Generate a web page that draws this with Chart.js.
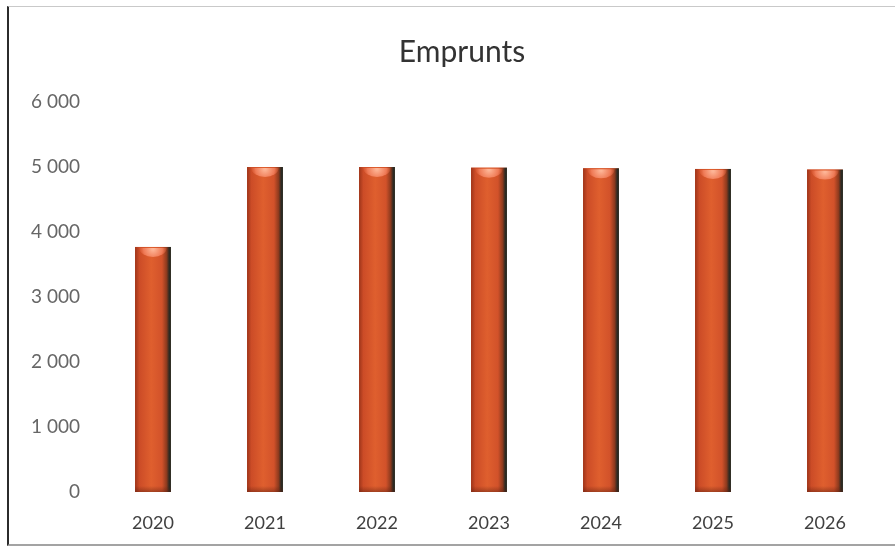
<!DOCTYPE html>
<html>
<head>
<meta charset="utf-8">
<title>Emprunts</title>
<script src="https://cdn.jsdelivr.net/npm/chart.js@4/dist/chart.umd.min.js"></script>
<style>
  html, body { margin: 0; padding: 0; background: #fff; }
  #wrap { position: relative; width: 895px; height: 548px; overflow: hidden; }
  #frame {
    position: absolute; left: 7px; top: 6px; width: 900px; height: 537px;
    border-left: 2px solid #2b2b2b; border-top: 1px solid #c9c9c9; border-bottom: 2px solid #a3a3a3;
  }
  canvas { position: absolute; left: 0; top: 0; }
</style>
</head>
<body>
<div id="wrap">
  <div id="frame"></div>
  <canvas id="emprunts" width="895" height="548"></canvas>
</div>
<script>
'use strict';

// annual borrowings
var years = ['2020', '2021', '2022', '2023', '2024', '2025', '2026'];
var amounts = [3770, 5000, 5000, 4990, 4980, 4970, 4960];
var yTicks = [0, 1000, 2000, 3000, 4000, 5000, 6000];
var chartTitle = 'Emprunts';

function spaced(v) {
  return String(v).replace(/\B(?=(\d{3})+(?!\d))/g, ' ');
}

// the frame runs past the right edge, so the heading sits centred on the frame
var frameTitle = {
  id: 'frameTitle',
  afterDraw: function (chart, args, opts) {
    var ctx = chart.ctx;
    ctx.save();
    ctx.font = '30px Lato';
    ctx.fillStyle = '#333';
    ctx.textAlign = 'center';
    ctx.textBaseline = 'middle';
    ctx.fillText(opts.text, opts.x, opts.y);
    ctx.restore();
  }
};

// paint each bar like a little cylinder: darker edges, light top cap
var cylinder = {
  id: 'cylinder',
  afterDatasetsDraw: function (chart) {
    var ctx = chart.ctx;
    chart.getDatasetMeta(0).data.forEach(function (bar) {
      var p = bar.getProps(['x', 'y', 'width', 'base'], true);
      var l = p.x - p.width / 2, w = p.width, h = p.base - p.y;
      ctx.save();
      var g = ctx.createLinearGradient(l, 0, l + w, 0);
      g.addColorStop(0, '#9e351a');
      g.addColorStop(0.12, '#cc4c27');
      g.addColorStop(0.45, '#df5f2e');
      g.addColorStop(0.75, '#d2522a');
      g.addColorStop(0.88, '#8c3a1e');
      g.addColorStop(0.95, '#2f2a22');
      g.addColorStop(1, '#1f2b25');
      ctx.fillStyle = g;
      ctx.fillRect(l, p.y, w, h);
      // top cap
      var cap = ctx.createRadialGradient(p.x, p.y + 2, 1, p.x, p.y + 2, w * 0.42);
      cap.addColorStop(0, 'rgba(255,185,155,0.95)');
      cap.addColorStop(0.6, 'rgba(244,130,95,0.85)');
      cap.addColorStop(1, 'rgba(230,100,60,0)');
      ctx.fillStyle = cap;
      ctx.beginPath();
      ctx.ellipse(p.x, p.y + 1, w * 0.38, 9, 0, 0, Math.PI);
      ctx.fill();
      // base shadow
      var b = ctx.createLinearGradient(0, p.base - 6, 0, p.base);
      b.addColorStop(0, 'rgba(90,30,15,0)');
      b.addColorStop(1, 'rgba(90,30,15,0.45)');
      ctx.fillStyle = b;
      ctx.fillRect(l, p.base - 6, w, 6);
      ctx.restore();
    });
  }
};

new Chart(document.getElementById('emprunts').getContext('2d'), {
  type: 'bar',
  data: {
    labels: years,
    datasets: [{
      label: chartTitle,
      data: amounts,
      backgroundColor: '#d9572c',
      borderWidth: 0,
      barPercentage: 0.32,
      categoryPercentage: 1
    }]
  },
  options: {
    responsive: false,
    animation: false,
    layout: { padding: { top: 102, left: 10, right: 14, bottom: 4 } },
    plugins: {
      legend: { display: false },
      tooltip: { enabled: false },
      title: { display: false },
      frameTitle: { text: chartTitle, x: 462, y: 52 }
    },
    scales: {
      x: {
        grid: { display: false, drawTicks: false },
        border: { display: false },
        ticks: { color: '#404040', padding: 20, font: { family: 'Lato', size: 18 } },
        afterFit: function (s) { s.height = 52; }
      },
      y: {
        min: 0,
        max: 6000,
        grid: { display: false, drawTicks: false },
        border: { display: false },
        afterBuildTicks: function (s) { s.ticks = yTicks.map(function (v) { return { value: v }; }); },
        ticks: {
          color: '#666',
          padding: 17,
          font: { family: 'Lato', size: 19 },
          callback: function (v) { return spaced(v); }
        },
        afterFit: function (s) { s.width = 87; }
      }
    }
  },
  plugins: [cylinder, frameTitle]
});
</script>
</body>
</html>
